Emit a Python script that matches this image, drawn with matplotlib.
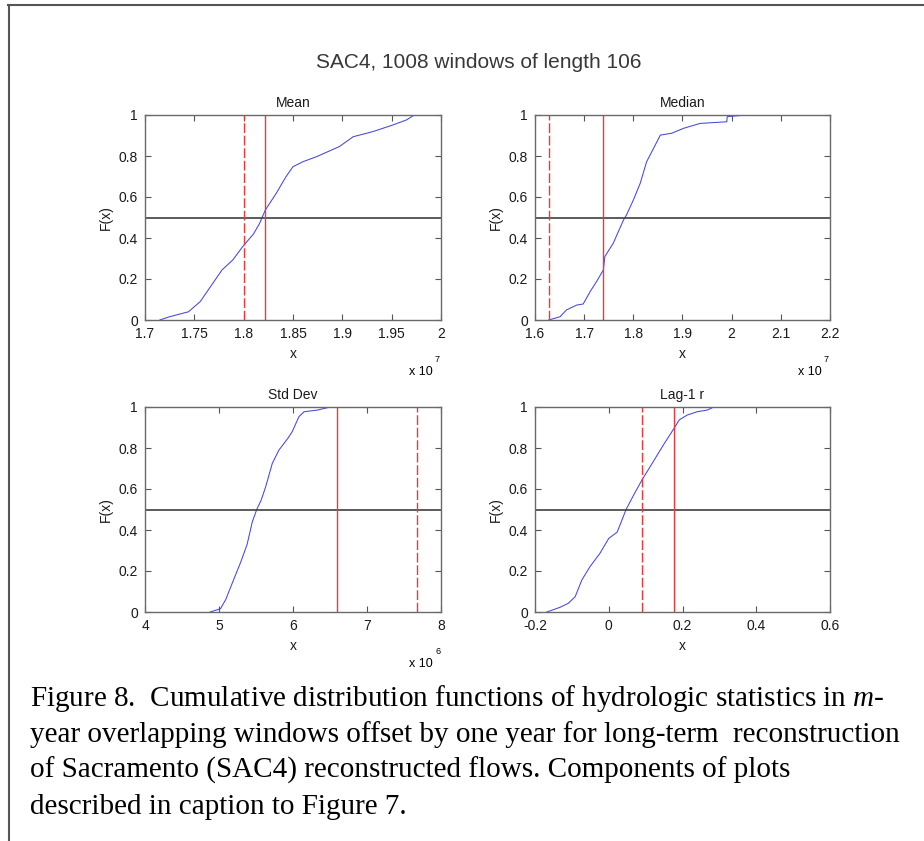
import matplotlib.pyplot as plt
from matplotlib.lines import Line2D

plt.rcParams['font.family'] = ['Liberation Sans', 'DejaVu Sans']
plt.rcParams['mathtext.fontset'] = 'custom'
plt.rcParams['mathtext.it'] = 'Liberation Serif:italic'
plt.rcParams['mathtext.rm'] = 'Liberation Serif'

# empirical CDFs of the windowed statistics (x in plotted units)
mean_x = [1.715, 1.725, 1.744, 1.756, 1.764, 1.778, 1.789, 1.799, 1.810, 1.816, 1.822,
          1.833, 1.843, 1.850, 1.860, 1.874, 1.897, 1.911, 1.931, 1.951, 1.965, 1.973, 1.978]
mean_f = [0, 0.016, 0.04, 0.09, 0.146, 0.244, 0.293, 0.358, 0.42, 0.47, 0.537,
          0.618, 0.70, 0.748, 0.772, 0.797, 0.846, 0.894, 0.919, 0.951, 0.976, 1.0, 1.0]

median_x = [1.628, 1.651, 1.664, 1.685, 1.698, 1.712, 1.725, 1.739, 1.742, 1.759, 1.780, 1.786,
            1.800, 1.814, 1.827, 1.841, 1.855, 1.878, 1.902, 1.936, 1.990, 1.991, 2.030]
median_f = [0, 0.016, 0.049, 0.073, 0.078, 0.138, 0.187, 0.244, 0.309, 0.374, 0.488, 0.512,
            0.585, 0.667, 0.772, 0.837, 0.902, 0.911, 0.935, 0.959, 0.967, 0.992, 1.0]

std_x = [4.88, 5.02, 5.09, 5.20, 5.29, 5.38, 5.45, 5.51, 5.57, 5.63, 5.72, 5.81, 5.93,
         5.99, 6.08, 6.15, 6.33, 6.47, 6.53]
std_f = [0, 0.016, 0.06, 0.16, 0.24, 0.33, 0.44, 0.50, 0.546, 0.61, 0.725, 0.79, 0.847,
         0.88, 0.953, 0.977, 0.985, 0.997, 1.0]

lag_x = [-0.168, -0.132, -0.110, -0.091, -0.073, -0.051, -0.024, 0.0, 0.023, 0.047, 0.070,
         0.090, 0.115, 0.151, 0.180, 0.191, 0.213, 0.240, 0.267, 0.285]
lag_f = [0, 0.023, 0.042, 0.075, 0.156, 0.221, 0.286, 0.359, 0.39, 0.50, 0.579,
         0.644, 0.717, 0.823, 0.904, 0.937, 0.961, 0.977, 0.985, 1.0]

# vertical reference lines: solid and dashed
solid_ref = [1.822, 1.739, 6.59, 0.178]
dashed_ref = [1.80, 1.628, 7.68, 0.09]

titles = ['Mean', 'Median', 'Std Dev', 'Lag-1 r']
xlims = [(1.7, 2.0), (1.6, 2.2), (4, 8), (-0.2, 0.6)]
xticks = [[1.7, 1.75, 1.8, 1.85, 1.9, 1.95, 2.0],
          [1.6, 1.7, 1.8, 1.9, 2.0, 2.1, 2.2],
          [4, 5, 6, 7, 8],
          [-0.2, 0, 0.2, 0.4, 0.6]]
xticklabels = [['1.7', '1.75', '1.8', '1.85', '1.9', '1.95', '2'],
               ['1.6', '1.7', '1.8', '1.9', '2', '2.1', '2.2'],
               ['4', '5', '6', '7', '8'],
               ['-0.2', '0', '0.2', '0.4', '0.6']]
exponents = ['7', '7', '6', None]
curves = [(mean_x, mean_f), (median_x, median_f), (std_x, std_f), (lag_x, lag_f)]

W, H = 924, 841
fig = plt.figure(figsize=(W / 100, H / 100), dpi=100)

def fx(x):
    return x / W

def fy(y):
    return 1 - y / H

# axes boxes in pixels: left, top, right, bottom
boxes = [(145, 115, 441, 320), (535, 115, 830, 320),
         (145, 407, 441, 612), (535, 407, 830, 612)]

for i in range(4):
    l, t, r, b = boxes[i]
    ax = fig.add_axes([fx(l), fy(b), (r - l) / W, (b - t) / H])
    cx, cf = curves[i]
    ax.plot(cx, cf, color='#4646dc', lw=0.75)
    ax.axhline(0.5, color='#404040', lw=1.2)
    ax.axvline(solid_ref[i], color='#e43c3c', lw=1.0)
    ax.axvline(dashed_ref[i], color='#e43c3c', lw=1.0, dashes=(7, 2))
    ax.set_xlim(*xlims[i])
    ax.set_ylim(0, 1)
    ax.set_xticks(xticks[i])
    ax.set_xticklabels(xticklabels[i])
    ax.set_yticks([0, 0.2, 0.4, 0.6, 0.8, 1])
    ax.set_yticklabels(['0', '0.2', '0.4', '0.6', '0.8', '1'])
    ax.tick_params(direction='in', top=True, right=True, length=4, width=0.8,
                   color='#555555', labelsize=10, labelcolor='#1a1a1a', pad=5)
    for s in ax.spines.values():
        s.set_color('#6a6a6a')
        s.set_linewidth(1.0)
    ax.set_title(titles[i], fontsize=10, pad=6, color='#1a1a1a')
    ax.set_xlabel('x', fontsize=10, labelpad=4, color='#1a1a1a')
    ax.set_ylabel('F(x)', fontsize=10, labelpad=4, color='#1a1a1a')
    if exponents[i]:
        fig.text(fx(r - 8), fy(b + 52), 'x 10', fontsize=9, ha='right', va='center')
        fig.text(fx(r - 6), fy(b + 40), exponents[i], fontsize=6.5, ha='left', va='center')

fig.text(fx(479), fy(62), 'SAC4, 1008 windows of length 106', fontsize=15,
         ha='center', va='center', color='#383838')

cap = [r'Figure 8.  Cumulative distribution functions of hydrologic statistics in $\mathit{m}$-',
       'year overlapping windows offset by one year for long-term  reconstruction',
       'of Sacramento (SAC4) reconstructed flows. Components of plots',
       'described in caption to Figure 7.']
for j, line in enumerate(cap):
    fig.text(fx(30), fy(706 + 36 * j), line, fontsize=21, family='Liberation Serif',
             ha='left', va='baseline')

# frame around the figure panel
fig.add_artist(Line2D([fx(8), 1], [fy(5), fy(5)], color='#555555', lw=1.5))
fig.add_artist(Line2D([fx(9), fx(9)], [fy(5), 0], color='#555555', lw=1.5))

fig.savefig('out.png', dpi=100)
